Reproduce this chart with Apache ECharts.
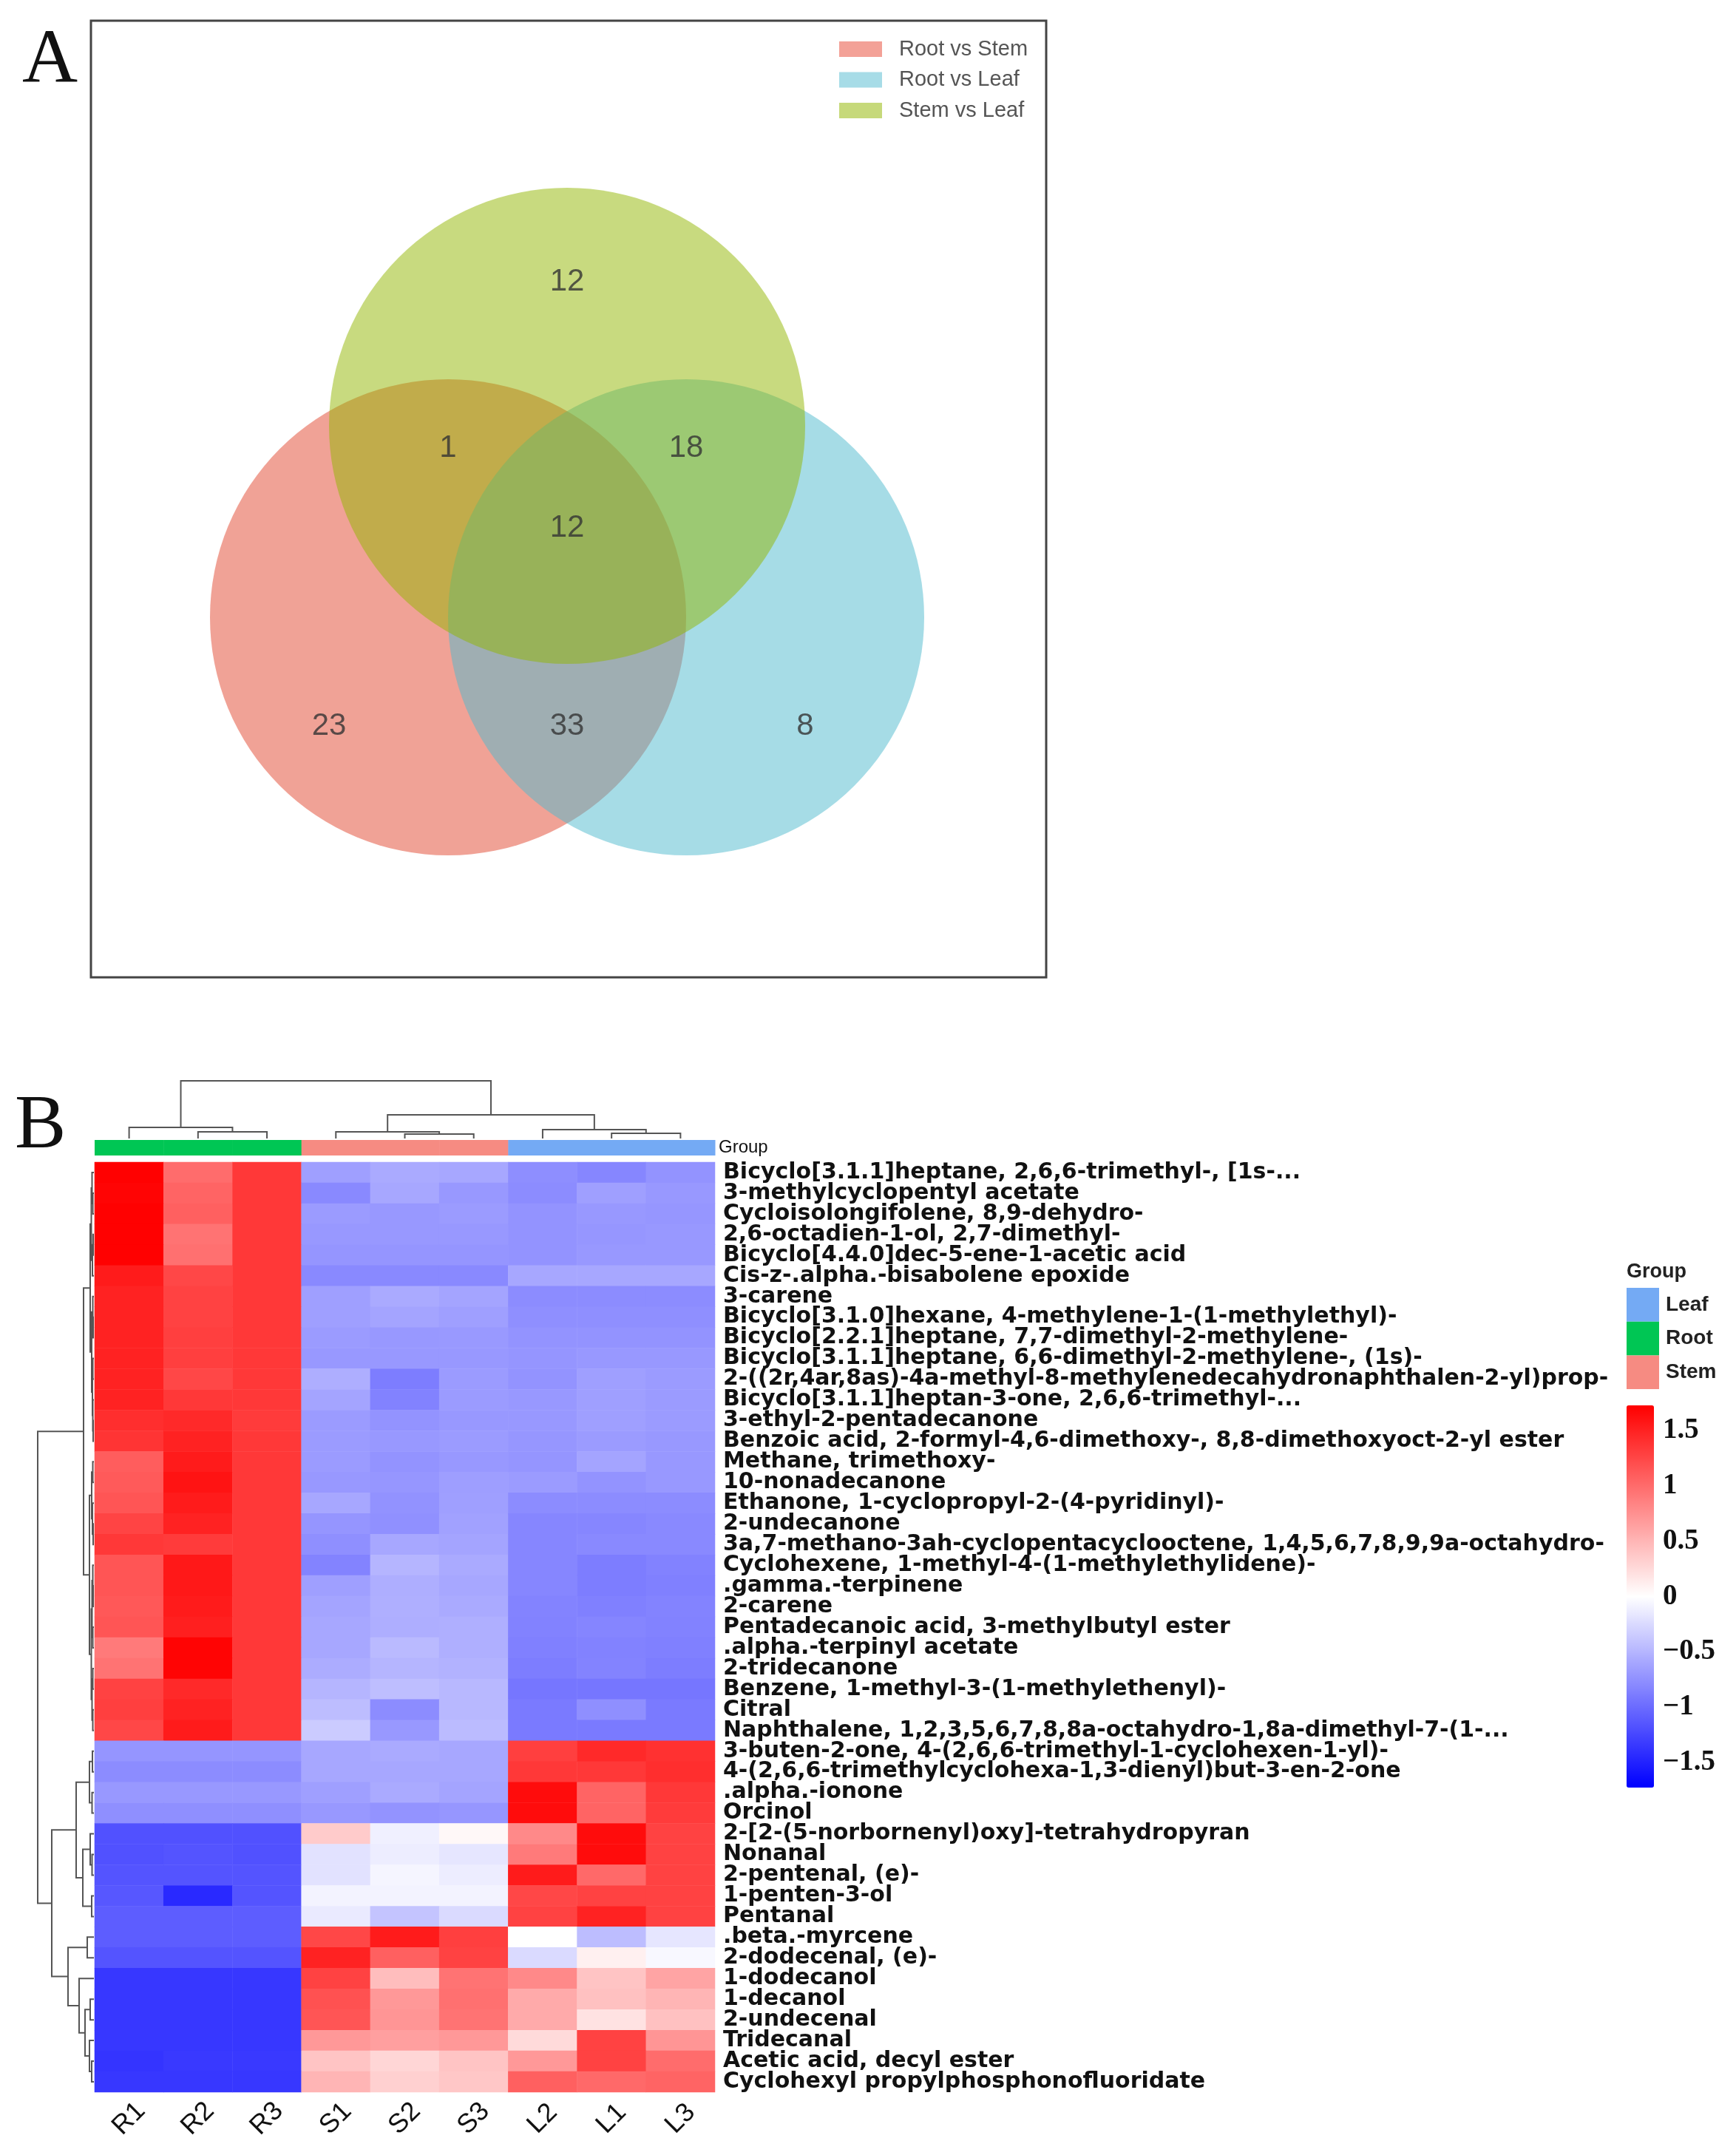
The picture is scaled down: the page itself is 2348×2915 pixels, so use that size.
<!DOCTYPE html>
<html><head><meta charset="utf-8">
<script src="https://cdn.jsdelivr.net/npm/echarts@6/dist/echarts.min.js"></script>
<style>html,body{margin:0;padding:0;background:#fff}#c{width:2348px;height:2915px}</style>
</head><body><div id="c"></div>
<script>
// ================= DATA =================
// Panel A – Venn
const vennSets = ['Root vs Stem', 'Root vs Leaf', 'Stem vs Leaf'];
const vennRegions = ['RS', 'RL', 'SL', 'RS&SL', 'RL&SL', 'RS&RL', 'RS&RL&SL'];
const vennCounts = [23, 8, 12, 1, 18, 33, 12];

// Panel B – heatmap
const samples = ['R1', 'R2', 'R3', 'S1', 'S2', 'S3', 'L2', 'L1', 'L3'];
const sampleGroups = ['Root', 'Root', 'Root', 'Stem', 'Stem', 'Stem', 'Leaf', 'Leaf', 'Leaf'];
const groupNames = ['Leaf', 'Root', 'Stem'];
const compounds = [
  'Bicyclo[3.1.1]heptane, 2,6,6-trimethyl-, [1s-...',
  '3-methylcyclopentyl acetate',
  'Cycloisolongifolene, 8,9-dehydro-',
  '2,6-octadien-1-ol, 2,7-dimethyl-',
  'Bicyclo[4.4.0]dec-5-ene-1-acetic acid',
  'Cis-z-.alpha.-bisabolene epoxide',
  '3-carene',
  'Bicyclo[3.1.0]hexane, 4-methylene-1-(1-methylethyl)-',
  'Bicyclo[2.2.1]heptane, 7,7-dimethyl-2-methylene-',
  'Bicyclo[3.1.1]heptane, 6,6-dimethyl-2-methylene-, (1s)-',
  '2-((2r,4ar,8as)-4a-methyl-8-methylenedecahydronaphthalen-2-yl)prop-',
  'Bicyclo[3.1.1]heptan-3-one, 2,6,6-trimethyl-...',
  '3-ethyl-2-pentadecanone',
  'Benzoic acid, 2-formyl-4,6-dimethoxy-, 8,8-dimethoxyoct-2-yl ester',
  'Methane, trimethoxy-',
  '10-nonadecanone',
  'Ethanone, 1-cyclopropyl-2-(4-pyridinyl)-',
  '2-undecanone',
  '3a,7-methano-3ah-cyclopentacyclooctene, 1,4,5,6,7,8,9,9a-octahydro-',
  'Cyclohexene, 1-methyl-4-(1-methylethylidene)-',
  '.gamma.-terpinene',
  '2-carene',
  'Pentadecanoic acid, 3-methylbutyl ester',
  '.alpha.-terpinyl acetate',
  '2-tridecanone',
  'Benzene, 1-methyl-3-(1-methylethenyl)-',
  'Citral',
  'Naphthalene, 1,2,3,5,6,7,8,8a-octahydro-1,8a-dimethyl-7-(1-...',
  '3-buten-2-one, 4-(2,6,6-trimethyl-1-cyclohexen-1-yl)-',
  '4-(2,6,6-trimethylcyclohexa-1,3-dienyl)but-3-en-2-one',
  '.alpha.-ionone',
  'Orcinol',
  '2-[2-(5-norbornenyl)oxy]-tetrahydropyran',
  'Nonanal',
  '2-pentenal, (e)-',
  '1-penten-3-ol',
  'Pentanal',
  '.beta.-myrcene',
  '2-dodecenal, (e)-',
  '1-dodecanol',
  '1-decanol',
  '2-undecenal',
  'Tridecanal',
  'Acetic acid, decyl ester',
  'Cyclohexyl propylphosphonofluoridate'
];
// z-scores, one row per compound, columns in the order of `samples`
const zscore = [
  [1.72, 1.00, 1.35, -0.65, -0.58, -0.60, -0.77, -0.82, -0.73],
  [1.70, 1.05, 1.35, -0.80, -0.60, -0.70, -0.78, -0.65, -0.70],
  [1.72, 1.08, 1.35, -0.68, -0.70, -0.68, -0.73, -0.70, -0.71],
  [1.72, 0.95, 1.35, -0.70, -0.70, -0.70, -0.73, -0.71, -0.70],
  [1.72, 0.97, 1.35, -0.72, -0.72, -0.72, -0.73, -0.70, -0.70],
  [1.55, 1.25, 1.35, -0.80, -0.80, -0.80, -0.60, -0.60, -0.60],
  [1.50, 1.28, 1.35, -0.65, -0.58, -0.62, -0.78, -0.78, -0.78],
  [1.50, 1.28, 1.35, -0.65, -0.62, -0.65, -0.76, -0.76, -0.76],
  [1.50, 1.30, 1.35, -0.68, -0.70, -0.69, -0.73, -0.73, -0.73],
  [1.50, 1.30, 1.35, -0.70, -0.70, -0.70, -0.72, -0.70, -0.70],
  [1.50, 1.25, 1.35, -0.55, -0.88, -0.68, -0.73, -0.65, -0.68],
  [1.50, 1.35, 1.35, -0.62, -0.85, -0.68, -0.70, -0.65, -0.68],
  [1.42, 1.45, 1.33, -0.68, -0.73, -0.70, -0.70, -0.65, -0.68],
  [1.38, 1.50, 1.35, -0.68, -0.70, -0.68, -0.71, -0.68, -0.70],
  [1.10, 1.55, 1.35, -0.68, -0.73, -0.70, -0.72, -0.62, -0.70],
  [1.12, 1.60, 1.35, -0.70, -0.71, -0.66, -0.68, -0.73, -0.70],
  [1.15, 1.55, 1.35, -0.60, -0.74, -0.65, -0.78, -0.78, -0.78],
  [1.27, 1.50, 1.35, -0.72, -0.75, -0.64, -0.82, -0.82, -0.80],
  [1.35, 1.33, 1.35, -0.76, -0.60, -0.62, -0.82, -0.80, -0.80],
  [1.15, 1.57, 1.35, -0.84, -0.50, -0.58, -0.82, -0.88, -0.85],
  [1.15, 1.57, 1.35, -0.65, -0.55, -0.60, -0.82, -0.88, -0.86],
  [1.13, 1.55, 1.35, -0.62, -0.54, -0.58, -0.84, -0.86, -0.84],
  [1.15, 1.52, 1.35, -0.60, -0.55, -0.54, -0.85, -0.83, -0.85],
  [0.90, 1.70, 1.35, -0.60, -0.47, -0.54, -0.86, -0.85, -0.86],
  [0.95, 1.70, 1.35, -0.56, -0.50, -0.52, -0.88, -0.84, -0.88],
  [1.28, 1.45, 1.35, -0.50, -0.44, -0.48, -0.93, -0.93, -0.93],
  [1.30, 1.50, 1.35, -0.45, -0.78, -0.48, -0.90, -0.76, -0.90],
  [1.25, 1.55, 1.35, -0.35, -0.70, -0.46, -0.90, -0.90, -0.90],
  [-0.72, -0.72, -0.72, -0.60, -0.58, -0.60, 1.30, 1.45, 1.40],
  [-0.78, -0.78, -0.78, -0.60, -0.60, -0.60, 1.35, 1.35, 1.42],
  [-0.70, -0.70, -0.70, -0.65, -0.58, -0.62, 1.65, 1.05, 1.35],
  [-0.76, -0.76, -0.76, -0.70, -0.73, -0.71, 1.65, 1.05, 1.33],
  [-1.18, -1.18, -1.18, 0.35, -0.10, 0.05, 0.80, 1.65, 1.28],
  [-1.18, -1.16, -1.18, -0.20, -0.12, -0.17, 0.90, 1.65, 1.28],
  [-1.16, -1.16, -1.16, -0.20, -0.07, -0.12, 1.55, 1.02, 1.28],
  [-1.14, -1.45, -1.16, -0.08, -0.08, -0.08, 1.25, 1.28, 1.28],
  [-1.10, -1.10, -1.10, -0.14, -0.40, -0.25, 1.28, 1.50, 1.28],
  [-1.10, -1.10, -1.10, 1.25, 1.55, 1.30, 0.00, -0.45, -0.17],
  [-1.16, -1.16, -1.16, 1.50, 1.08, 1.28, -0.25, 0.10, -0.05],
  [-1.36, -1.36, -1.36, 1.28, 0.45, 0.95, 0.80, 0.40, 0.62],
  [-1.36, -1.36, -1.36, 1.18, 0.70, 0.97, 0.58, 0.42, 0.50],
  [-1.36, -1.36, -1.36, 1.15, 0.72, 0.95, 0.58, 0.20, 0.42],
  [-1.36, -1.36, -1.36, 0.70, 0.65, 0.70, 0.25, 1.28, 0.72],
  [-1.38, -1.34, -1.34, 0.40, 0.28, 0.40, 0.70, 1.28, 1.00],
  [-1.36, -1.36, -1.36, 0.50, 0.32, 0.38, 1.08, 1.02, 1.05]
];
const scaleTicks = [-1.5, -1, -0.5, 0, 0.5, 1, 1.5];
const scaleRange = [-1.73, 1.73];
// dendrograms: [left, right, mergeHeight]; leaves = display index
const colTree = [[0, [1, 2, 9], 15], [[3, [4, 5, 6], 9], [6, [7, 8, 7], 12], 32], 78];
const rowTree = [
  [
    [[[0, [1, 2, 1.5], 2.5], [[3, 4, 1], 5, 2], 3.5], [[6, [7, 8, 1], 1.5], [[9, 10, 1.5], [11, [12, 13, 1], 1.5], 2], 3], 5],
    [[[14, 15, 1.5], [16, [17, 18, 1], 2], 3], [[[19, [20, 21, 1], 1.5], [22, 23, 1.5], 2.5], [[24, 25, 1.5], [26, 27, 1.5], 2.5], 3.5], 6],
    14],
  [
    [[[28, 29, 2], [30, 31, 2.5], 6], [[32, [33, 34, 2.5], 5], [35, 36, 3], 15], 24],
    [[37, 38, 9], [39, [[40, 41, 5], [42, [43, 44, 3], 6], 12], 20], 35],
    57],
  76];

// ================= LAYOUT / STYLE =================
const FR = {x: 123, y: 28, w: 1292, h: 1294};              // panel A frame
const VR = 322;                                           // venn radius (px)
const VC = {cx: 644, d: 161, yB: 807, yT: 548};            // venn geometry (frame units)
const vennCenters = [[VC.cx - VC.d, VC.yB], [VC.cx + VC.d, VC.yB], [VC.cx, VC.yT]];
const vennLabelPos = {
  'RS': [VC.cx - 2 * VC.d, 954], 'RL': [VC.cx + 2 * VC.d, 954], 'SL': [VC.cx, 353],
  'RS&SL': [VC.cx - VC.d, 578], 'RL&SL': [VC.cx + VC.d, 578], 'RS&RL': [VC.cx, 954], 'RS&RL&SL': [VC.cx, 686]
};
const vennColors = ['#E1452D', '#4DB9CD', '#91B500'];
const vennLegendColors = ['#F3A197', '#A7DCE7', '#C6D97A'];
const groupColors = {Leaf: '#74AAF4', Root: '#00C654', Stem: '#F68B82'};
const HM = {left: 128, top: 1572, w: 839, h: 1258};
const CB = {left: 2200, top: 1901, w: 37, h: 517};         // colour bar
const GL = {x: 2200, top: 1742, w: 44, h: 45.7};            // group legend

function merges(tree) {
  const out = [];
  (function walk(n) {
    if (typeof n === 'number') return {p: n, h: 0};
    const a = walk(n[0]), b = walk(n[1]);
    out.push([a.p, a.h, b.p, b.h, n[2]]);
    return {p: (a.p + b.p) / 2, h: n[2]};
  })(tree);
  return out;
}

const heatData = [];
zscore.forEach((row, r) => row.forEach((v, c) => heatData.push([c, r, v])));

const hidden = {show: false};
const chart = echarts.init(document.getElementById('c'), null, {renderer: 'canvas'});

const series = [];
vennSets.forEach((name, i) => series.push({
  type: 'scatter', name, xAxisIndex: 0, yAxisIndex: 0, silent: true,
  data: [vennCenters[i]], symbolSize: 2 * VR,
  itemStyle: {color: vennColors[i], opacity: 0.5}
}));
series.push({
  type: 'scatter', xAxisIndex: 0, yAxisIndex: 0, silent: true, symbolSize: 1,
  itemStyle: {color: 'rgba(0,0,0,0)'},
  data: vennRegions.map((r, i) => ({value: [vennLabelPos[r][0], vennLabelPos[r][1], vennCounts[i]]})),
  label: {show: true, position: 'inside', formatter: p => p.value[2],
          fontSize: 42, color: '#333', fontFamily: 'Liberation Sans'}
});
const heatIdx = series.length;
series.push({
  type: 'heatmap', xAxisIndex: 1, yAxisIndex: 1, data: heatData, silent: true,
  itemStyle: {borderWidth: 0}
});
series.push({
  type: 'custom', xAxisIndex: 2, yAxisIndex: 2, silent: true,
  data: samples.map((s, i) => [i, 0, groupNames.indexOf(sampleGroups[i])]),
  renderItem: (p, api) => {
    const c = api.coord([api.value(0), 0]);
    const s = api.size([1, 1]);
    return {type: 'rect', shape: {x: c[0] - s[0] / 2, y: c[1] - s[1] / 2, width: s[0] + 0.5, height: s[1]},
            style: {fill: groupColors[groupNames[api.value(2)]]}};
  }
});
series.push({
  type: 'custom', xAxisIndex: 3, yAxisIndex: 3, silent: true,
  data: merges(colTree), encode: {x: [0, 2], y: [1, 3, 4]},
  renderItem: (p, api) => {
    const a = api.value(0), ha = api.value(1), b = api.value(2), hb = api.value(3), h = api.value(4);
    return {type: 'polyline', shape: {points: [api.coord([a, ha]), api.coord([a, h]), api.coord([b, h]), api.coord([b, hb])]},
            style: {stroke: '#555', lineWidth: 2, fill: null}};
  }
});
series.push({
  type: 'custom', xAxisIndex: 4, yAxisIndex: 4, silent: true,
  data: merges(rowTree), encode: {x: [1, 3, 4], y: [0, 2]},
  renderItem: (p, api) => {
    const a = api.value(0), ha = api.value(1), b = api.value(2), hb = api.value(3), h = api.value(4);
    return {type: 'polyline', shape: {points: [api.coord([ha, a]), api.coord([h, a]), api.coord([h, b]), api.coord([hb, b])]},
            style: {stroke: '#555', lineWidth: 2, fill: null}};
  }
});

const option = {
  animation: false,
  backgroundColor: '#fff',
  grid: [
    {left: FR.x, top: FR.y, width: FR.w, height: FR.h},
    {left: HM.left, top: HM.top, width: HM.w, height: HM.h},
    {left: HM.left, top: 1542, width: HM.w, height: 21},
    {left: HM.left, top: 1460, width: HM.w, height: 80},
    {left: 47, top: HM.top, width: 80, height: HM.h},
    {left: CB.left, top: CB.top, width: CB.w, height: CB.h}
  ],
  xAxis: [
    {gridIndex: 0, type: 'value', min: 0, max: FR.w, show: false},
    {gridIndex: 1, type: 'category', data: samples, position: 'bottom',
     axisLine: hidden, axisTick: hidden, splitLine: hidden,
     axisLabel: {rotate: 45, margin: 36, align: 'center', verticalAlign: 'middle',
                 fontSize: 36, color: '#111', fontFamily: 'Liberation Sans'}},
    {gridIndex: 2, type: 'category', data: samples, show: false},
    {gridIndex: 3, type: 'value', min: -0.5, max: samples.length - 0.5, show: false},
    {gridIndex: 4, type: 'value', min: 0, max: 80, inverse: true, show: false},
    {gridIndex: 5, type: 'value', show: false}
  ],
  yAxis: [
    {gridIndex: 0, type: 'value', min: 0, max: FR.h, inverse: true, show: false},
    {gridIndex: 1, type: 'category', data: compounds, inverse: true, position: 'right',
     axisLine: hidden, axisTick: hidden, splitLine: hidden,
     axisLabel: {interval: 0, margin: 11, fontSize: 30, fontWeight: 'bold', color: '#111', fontFamily: 'DejaVu Sans'}},
    {gridIndex: 2, type: 'category', data: ['Group'], position: 'right',
     axisLine: hidden, axisTick: hidden, splitLine: hidden,
     axisLabel: {margin: 5, fontSize: 24, color: '#111', fontFamily: 'Liberation Sans'}},
    {gridIndex: 3, type: 'value', min: 0, max: 80, show: false},
    {gridIndex: 4, type: 'value', min: -0.5, max: compounds.length - 0.5, inverse: true, show: false},
    {gridIndex: 5, type: 'value', min: scaleRange[0], max: scaleRange[1], position: 'right',
     axisLine: hidden, splitLine: hidden,
     axisTick: {show: false, customValues: scaleTicks},
     axisLabel: {customValues: scaleTicks, margin: 12, fontSize: 39, fontWeight: 'bold', color: '#111',
                 fontFamily: 'Liberation Serif', formatter: v => String(v).replace('-', '\u2212')}}
  ],
  legend: {
    data: vennSets.map((n, i) => ({name: n, itemStyle: {color: vennLegendColors[i], opacity: 1}})),
    orient: 'vertical', left: 1130, top: 47, icon: 'rect', itemWidth: 58, itemHeight: 21, itemGap: 12.5,
    selectedMode: false,
    textStyle: {fontSize: 29, color: '#555', fontFamily: 'Liberation Sans', padding: [0, 0, 0, 18]}
  },
  visualMap: {
    type: 'continuous', seriesIndex: heatIdx, min: scaleRange[0], max: scaleRange[1],
    calculable: false, orient: 'vertical', left: CB.left, top: CB.top, itemWidth: CB.w, itemHeight: CB.h,
    padding: 0, text: null, hoverLink: false,
    inRange: {color: ['#0000FF', '#FFFFFF', '#FF0000']}
  },
  graphic: [
    {type: 'rect', shape: {x: FR.x, y: FR.y, width: FR.w, height: FR.h}, style: {fill: null, stroke: '#444', lineWidth: 3}, silent: true},
    {type: 'text', x: 30, y: 84, style: {text: 'A', fontSize: 104, fontFamily: 'Liberation Serif', fill: '#111', verticalAlign: 'middle'}},
    {type: 'text', x: 20, y: 1525, style: {text: 'B', fontSize: 104, fontFamily: 'Liberation Serif', fill: '#111', verticalAlign: 'middle'}},
    {type: 'text', x: GL.x, y: 1721, style: {text: 'Group', fontSize: 27, fontWeight: 'bold', fontFamily: 'Liberation Sans', fill: '#222', verticalAlign: 'middle'}},
    ...groupNames.map((g, i) => ({type: 'rect', shape: {x: GL.x, y: GL.top + i * GL.h, width: GL.w, height: GL.h}, style: {fill: groupColors[g]}})),
    ...groupNames.map((g, i) => ({type: 'text', x: 2253, y: GL.top + (i + 0.5) * GL.h, style: {text: g, fontSize: 28, fontWeight: 'bold', fontFamily: 'Liberation Sans', fill: '#222', verticalAlign: 'middle'}}))
  ],
  series
};
chart.setOption(option);
</script></body></html>
